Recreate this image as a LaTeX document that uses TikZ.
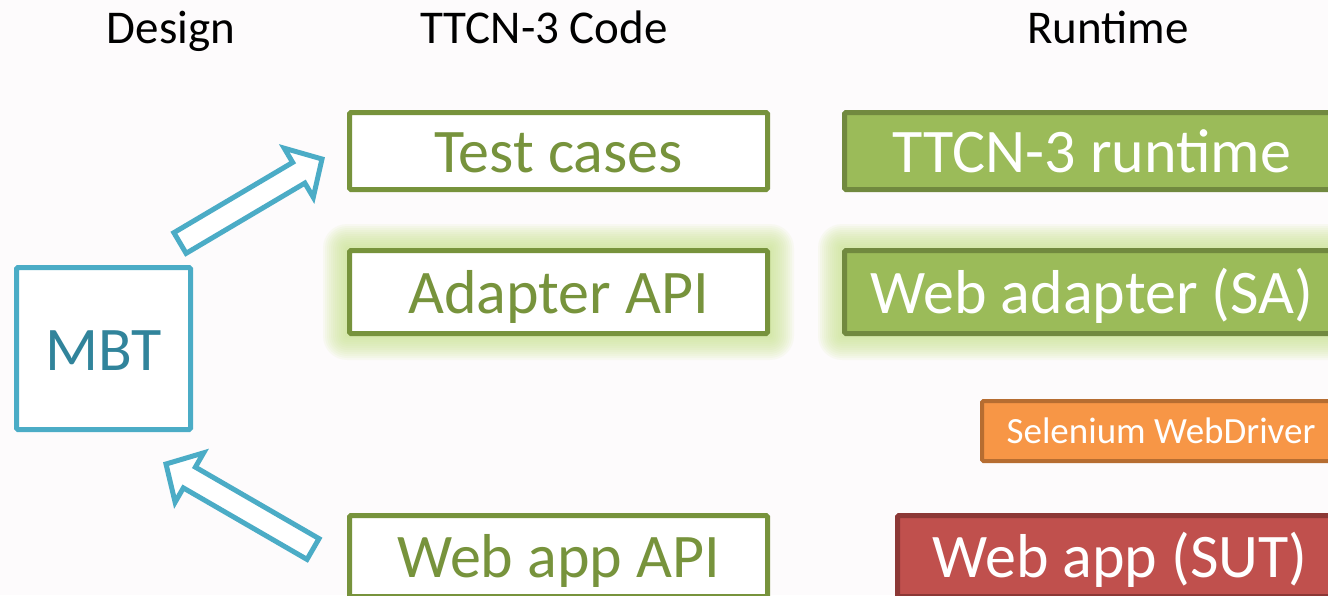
\documentclass[tikz,border=0pt]{standalone}
\usepackage{fontspec}
\setmainfont{Carlito}
\usetikzlibrary{calc,backgrounds}
\definecolor{olive}{RGB}{119,147,60}
\definecolor{gfill}{RGB}{155,187,89}
\definecolor{gdark}{RGB}{113,137,63}
\definecolor{ofill}{RGB}{247,150,70}
\definecolor{odark}{RGB}{182,109,49}
\definecolor{rfill}{RGB}{192,80,77}
\definecolor{rdark}{RGB}{140,56,54}
\definecolor{teal}{RGB}{75,172,198}
\definecolor{tealtext}{RGB}{49,132,155}
\definecolor{glowc}{RGB}{200,228,140}
\definecolor{bgc}{RGB}{253,251,252}
\tikzset{
  codebox/.style={draw=olive, line width=5pt, fill=white, rounded corners=1.5pt, inner sep=0pt,
    text=olive, font=\fontsize{62}{62}\selectfont, text height=42pt, text depth=0pt},
  runbox/.style={line width=5pt, rounded corners=1.5pt, inner sep=0pt,
    text=white, font=\fontsize{62}{62}\selectfont, text height=42pt, text depth=0pt},
  title/.style={anchor=base, font=\fontsize{47}{47}\selectfont, text=black, inner sep=0pt},
  blockarrow/.style={draw=teal, fill=white, line width=5pt, line join=miter}
}
\newcommand{\blkarrow}[5]{% tail, tip, shaft half width, head half width, head length
  \path ($(#2)!#5!(#1)$) coordinate (hs);
  \draw[blockarrow] ($(#1)!#3!90:(#2)$) -- ($(hs)!#3!90:(#2)$) -- ($(hs)!#4!90:(#2)$) -- (#2)
    -- ($(hs)!#4!-90:(#2)$) -- ($(hs)!#3!-90:(#2)$) -- ($(#1)!#3!-90:(#2)$) -- cycle;
}
\begin{document}
\begin{tikzpicture}[x=1pt,y=-1pt]
\useasboundingbox (0,0) rectangle (1328,595);
\clip (0,0) rectangle (1328,595);

% titles
\node[title] (tdesign) at (171,43) {Design};
\node[title] (tcode) at (544,43) {TTCN-3 Code};
\node[title] (truntime) at (1108,43) {Runtime};

% code column
\node[codebox, minimum width=418pt, minimum height=77pt] (tc) at (558.5,151) {Test cases};
\node[codebox, minimum width=418pt, minimum height=83pt] (aa) at (558.5,292) {Adapter API};
\node[codebox, minimum width=418pt, minimum height=81pt] (wa) at (558.5,556) {Web app API};

% runtime column
\node[runbox, draw=gdark, fill=gfill, minimum width=495pt, minimum height=77pt] (rt) at (1092,151) {TTCN-3 runtime};
\node[runbox, draw=gdark, fill=gfill, minimum width=495pt, minimum height=83pt] (wad) at (1092,292) {Web adapter (SA)};
\node[runbox, draw=odark, fill=ofill, line width=4pt, minimum width=358pt, minimum height=60pt,
  font=\fontsize{37}{37}\selectfont, text height=24pt] (sel) at (1161,431) {Selenium WebDriver};
\node[runbox, draw=rdark, fill=rfill, minimum width=445pt, minimum height=81pt] (sut) at (1120,556) {Web app (SUT)};

% MBT
\node[draw=teal, line width=5pt, fill=white, rounded corners=1.5pt, inner sep=0pt,
  minimum width=174pt, minimum height=162pt, text=tealtext,
  font=\fontsize{62}{62}\selectfont, text height=43pt, text depth=0pt] (mbt) at (103.5,348.5) {MBT};

% block arrows
\coordinate (a1t) at (180,243);
\coordinate (a1h) at (322,159);
\coordinate (a2t) at (313,549);
\coordinate (a2h) at (166,464);
\blkarrow{a1t}{a1h}{12pt}{28.5pt}{27pt}
\blkarrow{a2t}{a2h}{12pt}{28.5pt}{27pt}

\begin{scope}[on background layer]
  \fill[bgc] (0,0) rectangle (1328,595);
  \foreach \n in {aa,wad}{
    \foreach \i in {1,...,12}{
      \fill[glowc, opacity=0.09, rounded corners=2*\i]
        ($(\n.north west)+(-2*\i,-2*\i)$) rectangle ($(\n.south east)+(2*\i,2*\i)$);
    }
  }
\end{scope}
\end{tikzpicture}
\end{document}
